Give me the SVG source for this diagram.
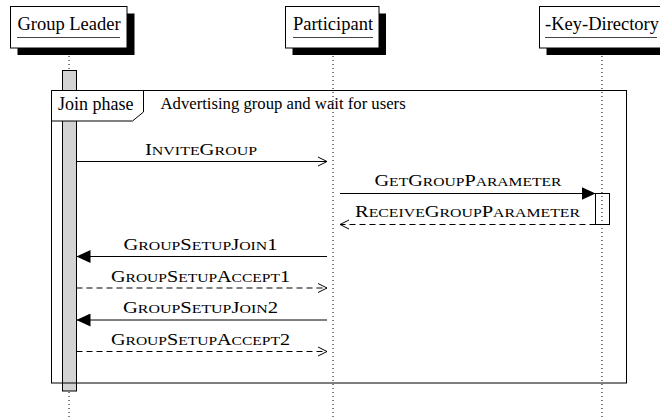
<svg xmlns="http://www.w3.org/2000/svg" width="660" height="417" viewBox="0 0 660 417">
<style>
text{font-family:"Liberation Serif","Times New Roman",serif;fill:#000}
.head{font-size:18.5px;text-anchor:middle}
.lbl{font-size:16.6px;text-anchor:middle}
.sc{font-size:12.8px}
.note{font-size:16.7px}
.box{fill:#fff;stroke:#000;stroke-width:1}
.shadow{fill:#000}
.ul{stroke:#444;stroke-width:1}
.life{stroke:#000;stroke-width:1;stroke-dasharray:1 3;fill:none}
.msg{stroke:#000;stroke-width:1;fill:none}
.dash{stroke-dasharray:6 4}
.open{marker-end:url(#openArrow)}
.fill{marker-end:url(#fillArrow)}
</style>
<defs>
<marker id="fillArrow" markerUnits="userSpaceOnUse" markerWidth="14" markerHeight="13" viewBox="0 0 14 13" refX="14" refY="6.5" orient="auto">
<path d="M0,0 L14,6.5 L0,13 Z" fill="#000" stroke="none"/>
</marker>
<marker id="openArrow" markerUnits="userSpaceOnUse" markerWidth="12" markerHeight="12" viewBox="-1 -1 12 12" refX="9" refY="4.5" orient="auto">
<path d="M0,0 L9,4.5 L0,9" fill="none" stroke="#000" stroke-width="1" stroke-dasharray="none"/>
</marker>
</defs>
<rect width="660" height="417" fill="#fff"/>

<g id="lifelines">
<line class="life" x1="69" y1="48" x2="69" y2="417"/>
<line class="life" x1="333" y1="48" x2="333" y2="417"/>
<line class="life" x1="602" y1="48" x2="602" y2="417"/>
</g>

<g id="group-leader">
<rect class="shadow" x="17.5" y="13.5" width="117" height="41.5"/>
<rect class="box" x="10.5" y="6.5" width="116.5" height="41.5"/>
<text class="head" x="69" y="29.5">Group Leader</text>
<line class="ul" x1="17" y1="37.5" x2="120" y2="37.5"/>
<rect x="62.5" y="70.5" width="14" height="320.5" fill="#d3d3d3" stroke="#000" stroke-width="1"/>
</g>

<g id="participant">
<rect class="shadow" x="292.5" y="13.5" width="93.5" height="41.5"/>
<rect class="box" x="285.5" y="6.5" width="93.5" height="41.5"/>
<text class="head" x="333" y="29.5">Participant</text>
<line class="ul" x1="293" y1="37.5" x2="373" y2="37.5"/>
</g>

<g id="key-directory">
<rect class="shadow" x="546.5" y="13.5" width="130" height="41.5"/>
<rect class="box" x="539.5" y="6.5" width="130" height="41.5"/>
<text class="head" x="602" y="29.5">-Key-Directory</text>
<line class="ul" x1="545" y1="37.5" x2="657" y2="37.5"/>
<rect x="595.5" y="193.5" width="14" height="31" fill="none" stroke="#000" stroke-width="1"/>
</g>

<g id="join-phase">
<rect x="51.5" y="90.5" width="575" height="292.5" fill="none" stroke="#000" stroke-width="1"/>
<path d="M51.5,90.5 H143.5 V112 L132.5,121 H51.5 Z" fill="#fff" stroke="#000" stroke-width="1"/>
<text x="58" y="110" style="font-size:18px">Join phase</text>
<text class="note" x="160.5" y="109">Advertising group and wait for users</text>
</g>

<g id="connectors">
<path class="msg open" d="M76.5,161.5 H327"/>
<path class="msg fill" d="M340,193.5 H595.5"/>
<path class="msg dash open" d="M595.5,224.5 H340"/>
<path class="msg fill" d="M327,256.5 H76.5"/>
<path class="msg dash open" d="M76.5,288 H327"/>
<path class="msg fill" d="M327,320 H76.5"/>
<path class="msg dash open" d="M76.5,351.5 H327"/>
</g>

<g id="labels">
<text class="lbl" x="201" y="155" textLength="112" lengthAdjust="spacingAndGlyphs">I<tspan class="sc">NVITE</tspan>G<tspan class="sc">ROUP</tspan></text>
<text class="lbl" x="468" y="186" textLength="187" lengthAdjust="spacingAndGlyphs">G<tspan class="sc">ET</tspan>G<tspan class="sc">ROUP</tspan>P<tspan class="sc">ARAMETER</tspan></text>
<text class="lbl" x="467.5" y="217" textLength="225" lengthAdjust="spacingAndGlyphs">R<tspan class="sc">ECEIVE</tspan>G<tspan class="sc">ROUP</tspan>P<tspan class="sc">ARAMETER</tspan></text>
<text class="lbl" x="200.5" y="250" textLength="154" lengthAdjust="spacingAndGlyphs">G<tspan class="sc">ROUP</tspan>S<tspan class="sc">ETUP</tspan>J<tspan class="sc">OIN</tspan>1</text>
<text class="lbl" x="200.5" y="281.5" textLength="179" lengthAdjust="spacingAndGlyphs">G<tspan class="sc">ROUP</tspan>S<tspan class="sc">ETUP</tspan>A<tspan class="sc">CCEPT</tspan>1</text>
<text class="lbl" x="200.5" y="313" textLength="155" lengthAdjust="spacingAndGlyphs">G<tspan class="sc">ROUP</tspan>S<tspan class="sc">ETUP</tspan>J<tspan class="sc">OIN</tspan>2</text>
<text class="lbl" x="200.5" y="344.5" textLength="179" lengthAdjust="spacingAndGlyphs">G<tspan class="sc">ROUP</tspan>S<tspan class="sc">ETUP</tspan>A<tspan class="sc">CCEPT</tspan>2</text>
</g>
</svg>
